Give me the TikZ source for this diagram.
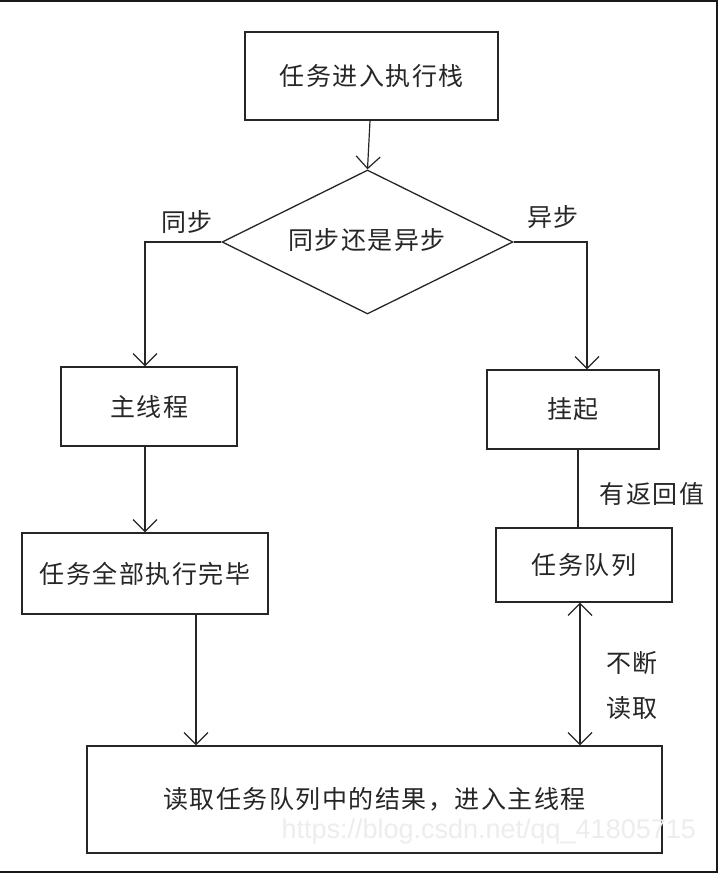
\documentclass[tikz,border=0pt]{standalone}
\usepackage{fontspec}
\newfontfamily\cjk[LetterSpace=6]{Noto Sans CJK SC}
\setsansfont{Liberation Sans}
\usetikzlibrary{shapes.geometric,arrows.meta}
\tikzset{
  box/.style={draw=black!85, line width=1.3pt, inner sep=0pt, fill=white},
  txt/.style={font=\cjk\fontsize{25}{25}\selectfont, text=black!85},
  arr/.style={-{Straight Barb[length=12pt,width=24pt]}, line width=1.2pt, draw=black!85},
  ln/.style={line width=1.2pt, draw=black!85},
  frame/.style={line width=2pt, draw=black!90}
}
\begin{document}
\begin{tikzpicture}[x=1pt,y=-1pt]
\useasboundingbox (0,0) rectangle (720,874);
\fill[white] (0,0) rectangle (720,874);
% frame
\draw[frame] (0,1) -- (717,1) -- (717,872) -- (0,872);
% nodes
\node[box, txt, minimum width=253pt, minimum height=88pt] (enter) at (371.5,76) {任务进入执行栈};
\node[box, diamond, aspect=2.02, minimum width=291pt, minimum height=144pt] (dia) at (367.5,242) {};
\node[txt] (diatext) at (367,240) {同步还是异步};
\node[box, txt, minimum width=176pt, minimum height=79pt] (main) at (149,406.5) {主线程};
\node[box, txt, minimum width=172pt, minimum height=79pt] (hang) at (573,409.5) {挂起};
\node[box, txt, minimum width=246pt, minimum height=81pt] (done) at (145,573.5) {任务全部执行完毕};
\node[box, txt, minimum width=176pt, minimum height=74pt] (queue) at (584,565) {任务队列};
\node[box, txt, minimum width=575pt, minimum height=107pt] (final) at (374.5,799.5) {读取任务队列中的结果，进入主线程};
% labels
\node[txt] (lsync) at (187,222) {同步};
\node[txt] (lasync) at (553,217) {异步};
\node[txt] (lret) at (652,494) {有返回值};
\node[txt] (lnon) at (632,663) {不断};
\node[txt] (lread) at (632,708) {读取};
% connectors
\draw[arr] ([xshift=-1.5pt]enter.south) -- (dia.north);
\draw[arr] (dia.west) -| ([xshift=-4pt]main.north);
\draw[arr] (dia.east) -| ([xshift=14pt]hang.north);
\draw[arr] ([xshift=-4pt]main.south) -- ([xshift=-4pt]main.south |- done.north);
\draw[ln] ([xshift=5pt]hang.south) -- ([xshift=5pt]hang.south |- queue.north);
\draw[arr] ([xshift=51pt]done.south) -- ([xshift=51pt]done.south |- final.north);
\draw[arr, {Straight Barb[length=12pt,width=24pt]}-{Straight Barb[length=12pt,width=24pt]}] ([xshift=-4pt]queue.south) -- ([xshift=-4pt]queue.south |- final.north);
% watermark
\node[font=\sffamily\fontsize{27}{27}\selectfont, text=black!7, anchor=west] (wm) at (278,832) {https://blog.csdn.net/qq\_41805715};
\end{tikzpicture}
\end{document}
